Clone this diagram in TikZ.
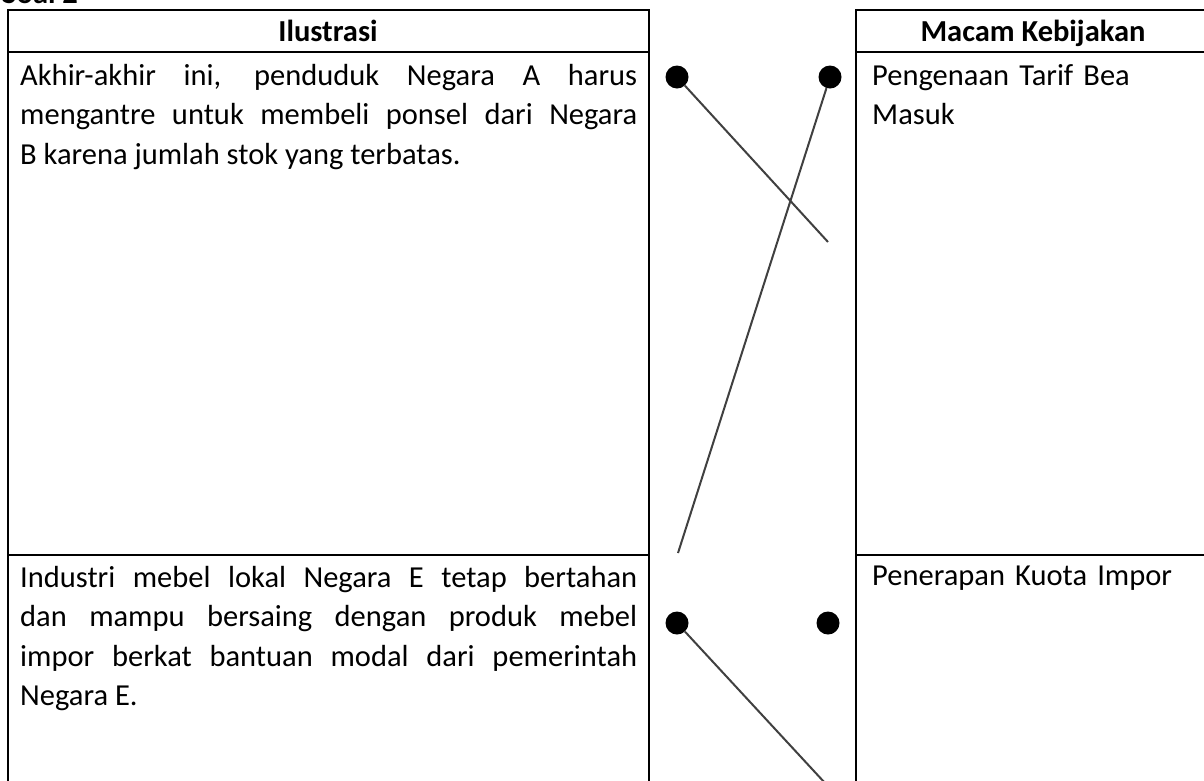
\documentclass[tikz,border=0pt]{standalone}
\usepackage{fontspec}
\setmainfont{Carlito}
\usepackage{tikz}
\usetikzlibrary{shapes,arrows}
\tikzstyle{frame} = [draw, line width=2.6pt]
\tikzstyle{head} = [anchor=base, inner sep=0pt, font=\fontsize{30.5}{39.5}\selectfont\bfseries]
\tikzstyle{block} = [anchor=north west, inner sep=0pt, text width=617pt, align=justify, font=\fontsize{30.5}{39.5}\selectfont]
\tikzstyle{choice} = [anchor=north west, inner sep=0pt, text width=320pt, align=left, font=\fontsize{30.5}{39.5}\selectfont]
\tikzstyle{dot} = [circle, fill=black, inner sep=0pt, minimum size=23pt]
\tikzstyle{line} = [draw, line width=2pt, black!75]

\begin{document}
\begin{tikzpicture}[x=1pt, y=-1pt]
\useasboundingbox (0, 0) rectangle (1204, 780);

\node [head, anchor=base west] at (2, 3) (soal) {Soal 2};

% ilustrasi
\draw [frame] (8, 10) rectangle (649, 800);
\draw [frame] (8, 52) -- (649, 52);
\draw [frame] (8, 555) -- (649, 555);
\node [head] at (328, 41) (ilus) {Ilustrasi};
\node [block] at (20, 64) (ilusA) {Akhir-akhir ini, penduduk Negara A harus\linebreak mengantre untuk membeli ponsel dari Negara\linebreak B karena jumlah stok yang terbatas.};
\node [block] at (20, 566) (ilusB) {Industri mebel lokal Negara E tetap bertahan\linebreak dan mampu bersaing dengan produk mebel\linebreak impor berkat bantuan modal dari pemerintah\linebreak Negara E.};

% macam kebijakan
\draw [frame] (856, 10) rectangle (1215, 800);
\draw [frame] (856, 52) -- (1215, 52);
\draw [frame] (856, 555) -- (1215, 555);
\node [head] at (1033, 41) (macam) {Macam Kebijakan};
\node [choice] at (872, 64) (macamA) {Pengenaan Tarif Bea\\Masuk};
\node [choice] at (872, 566) (macamB) {Penerapan Kuota Impor};

% jawaban
\node [dot] at (677, 77) (dotL1) {};
\node [dot] at (830, 77) (dotR1) {};
\node [dot] at (677, 623) (dotL2) {};
\node [dot] at (828, 623) (dotR2) {};
\coordinate (endA) at (828, 242);
\coordinate (endB) at (678, 553);
\coordinate (endC) at (825, 783);
\path [line] (dotL1) -- (endA);
\path [line] (dotR1) -- (endB);
\path [line] (dotL2) -- (endC);

\end{tikzpicture}
\end{document}
